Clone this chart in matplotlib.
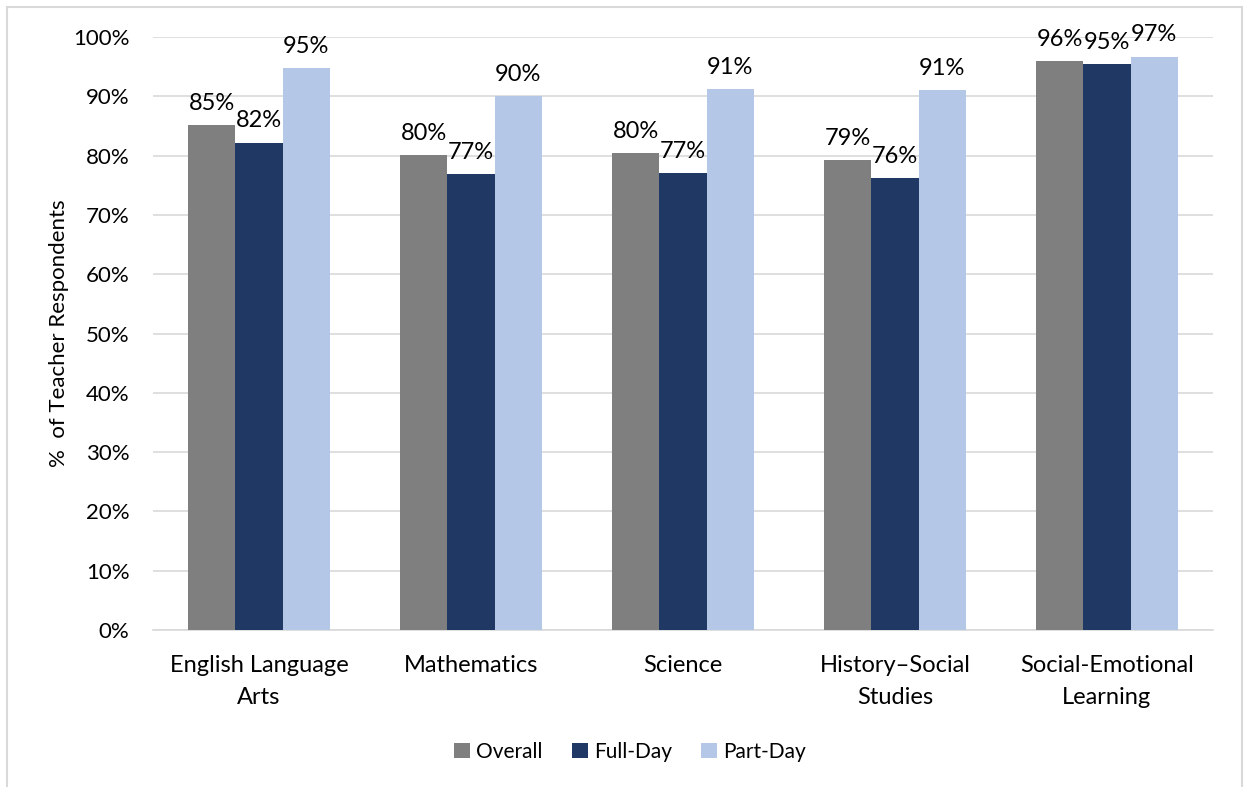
import matplotlib
matplotlib.use("Agg")
import matplotlib.pyplot as plt
from matplotlib.patches import Rectangle
import numpy as np

categories = ["English Language\nArts", "Mathematics", "Science",
              "History\u2013Social\nStudies", "Social-Emotional\nLearning"]
overall = [85.2, 80.1, 80.4, 79.3, 95.9]
full_day = [82.2, 76.9, 77.1, 76.2, 95.4]
part_day = [94.7, 90.1, 91.2, 91.0, 96.7]
series_names = ["Overall", "Full-Day", "Part-Day"]
colors = ["#7f7f7f", "#203864", "#b4c7e7"]
yticks = [0, 10, 20, 30, 40, 50, 60, 70, 80, 90, 100]

plt.rcParams['font.family'] = ['Lato', 'DejaVu Sans']

fig = plt.figure(figsize=(12.44, 7.87), dpi=100)
ax = fig.add_axes([153/1244, 1-630/787, (1213-153)/1244, (630-37)/787])

x = np.arange(len(categories))
w = 0.222
for i, (vals, name, c) in enumerate(zip([overall, full_day, part_day], series_names, colors)):
    pos = x + (i - 1) * w
    bars = ax.bar(pos, vals, width=w, color=c, label=name, zorder=3)
    for b, v in zip(bars, vals):
        ax.annotate(f"{round(v):.0f}%", (b.get_x() + b.get_width()/2, v),
                    xytext=(0, 8), textcoords="offset points",
                    ha="center", va="bottom", fontsize=17, color="#000000",
                    annotation_clip=False)

ax.set_xlim(-0.5, len(categories) - 0.5)
ax.set_ylim(0, 100)
ax.set_yticks(yticks)
ax.set_yticklabels([f"{t}%" for t in yticks], fontsize=16)
ax.set_xticks(x)
ax.set_xticklabels(categories, fontsize=17, linespacing=1.65)
ax.tick_params(axis="y", length=0, pad=17)
ax.tick_params(axis="x", length=0, pad=18)
ax.grid(axis="y", color="#d9d9d9", linewidth=1.2, zorder=0)
for s in ["top", "right", "left"]:
    ax.spines[s].set_visible(False)
ax.spines["bottom"].set_color("#d9d9d9")
ax.spines["bottom"].set_linewidth(1.2)
ax.set_ylabel("%  of Teacher Respondents", fontsize=16, labelpad=3)

fig.legend(loc="center", bbox_to_anchor=(630/1244, 1-752/787), ncol=3,
           frameon=False, fontsize=15, handlelength=0.75, handleheight=0.75,
           handletextpad=0.3, columnspacing=1.4)

fig.patches.append(Rectangle((7/1244, -0.05), (1242-7)/1244, 1.05 - 7/787,
                             transform=fig.transFigure, fill=False,
                             edgecolor="#d9d9d9", linewidth=1.5))

fig.savefig("out.png", dpi=100, facecolor="white")
